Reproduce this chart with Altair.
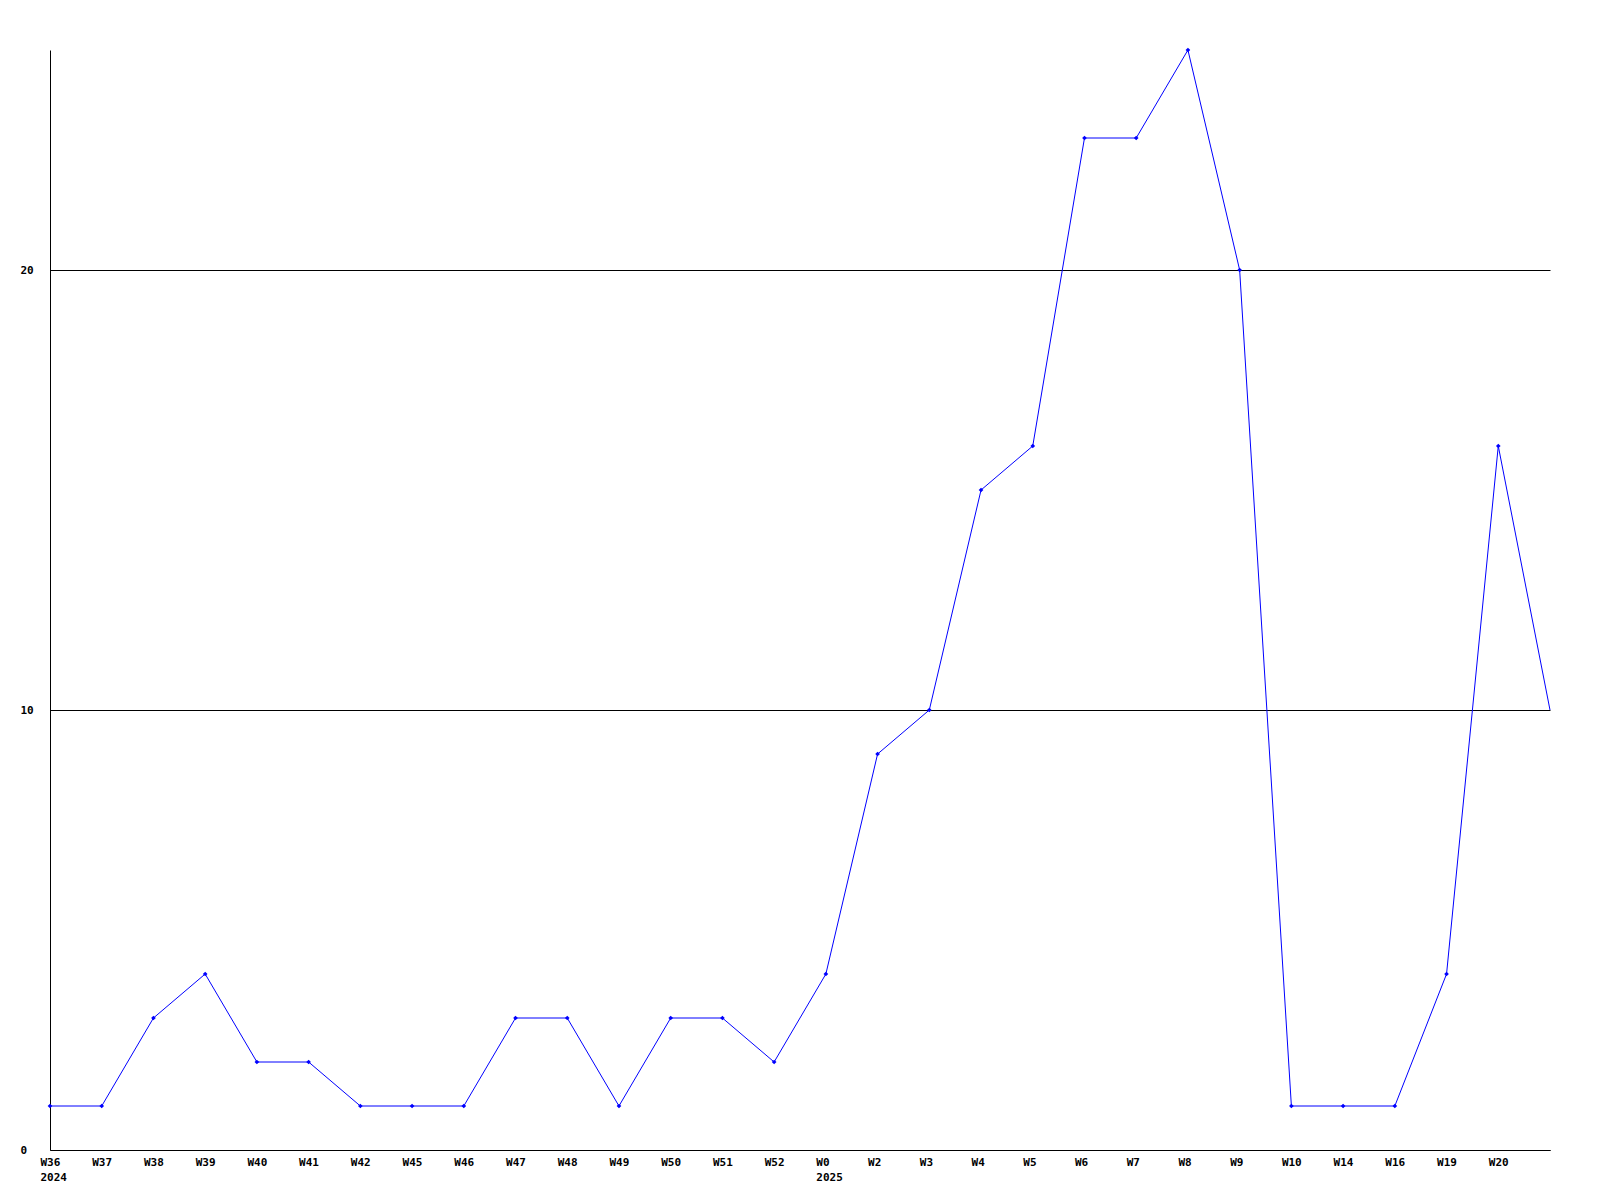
import altair as alt
import pandas as pd

weeks = ["W36", "W37", "W38", "W39", "W40", "W41", "W42", "W45", "W46", "W47",
         "W48", "W49", "W50", "W51", "W52", "W0", "W2", "W3", "W4", "W5",
         "W6", "W7", "W8", "W9", "W10", "W14", "W16", "W19", "W20", ""]
values = [1, 1, 3, 4, 2, 2, 1, 1, 1, 3,
          3, 1, 3, 3, 2, 4, 9, 10, 15, 16,
          23, 23, 25, 20, 1, 1, 1, 4, 16, 10]
year_weeks = ["W36", "W0"]
year_labels = ["2024", "2025"]
y_ticks = [0, 10, 20]

df = pd.DataFrame({"week": weeks, "value": values, "order": list(range(len(weeks)))})

expr = "datum.label"
for w, yl in zip(year_weeks, year_labels):
    expr = f"datum.value == '{w}' ? ['{w}', '{yl}'] : ({expr})"

FONT = "DejaVu Sans Mono"

x = alt.X("week:O", sort=weeks,
          scale=alt.Scale(type="point", padding=0),
          axis=alt.Axis(title=None, labelAngle=0, labelAlign="left", labelOffset=-10,
                        labelExpr=expr, labelLineHeight=15, ticks=False,
                        labelPadding=6, labelFont=FONT, labelFontSize=11,
                        labelFontWeight="bold", labelColor="black",
                        domainColor="black", grid=False, labelOverlap=False))
y = alt.Y("value:Q", scale=alt.Scale(domain=[0, 25], nice=False, zero=True),
          axis=alt.Axis(title=None, values=y_ticks, ticks=False, labelAlign="left",
                        labelPadding=30, labelFont=FONT, labelFontSize=11,
                        labelFontWeight="bold", labelColor="black",
                        domainColor="black", grid=True, gridColor="black",
                        gridOpacity=1, gridWidth=1))

base = alt.Chart(df)
line = base.mark_line(color="#0000ff", strokeWidth=1).encode(x=x, y=y, order="order:Q")
pts = base.transform_filter("datum.week != ''").mark_point(
    shape="diamond", filled=True, color="#0000ff", size=22, opacity=1
).encode(x=alt.X("week:O", sort=weeks), y="value:Q")

chart = alt.layer(line, pts).properties(
    width=1500, height=1100,
    autosize=alt.AutoSizeParams(type="none"),
    padding={"left": 42, "top": 42, "right": 42, "bottom": 42},
    background="white",
).configure_view(stroke=None)

chart.save("out.html", embed_options={"renderer": "svg", "actions": False})
